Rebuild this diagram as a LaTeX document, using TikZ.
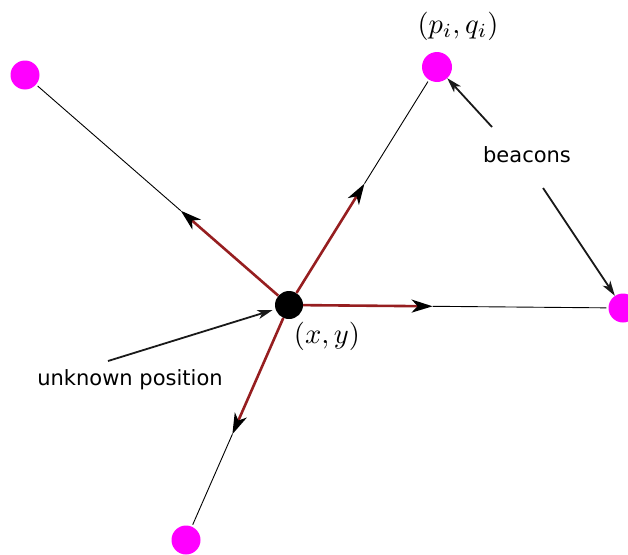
\documentclass[tikz,border=0pt]{standalone}
\usepackage{fontspec}
\usepackage{graphicx}
\usepackage{tikz}
\usetikzlibrary{arrows.meta, calc, positioning}
\newfontfamily\labelfont{DejaVu Sans}
\definecolor{beamred}{RGB}{150,30,32}
\definecolor{beacon}{RGB}{255,0,255}

\begin{document}
\begin{tikzpicture}[x=1pt, y=-1pt, >=Stealth]
    \clip (0,0) rectangle (628,554);
    % Vị trí chưa biết và các beacon
    \node[circle, fill=black, inner sep=0pt, minimum size=28pt] (pos) at (289,305) {};
    \node[circle, fill=beacon, inner sep=0pt, minimum size=29pt] (b1) at (25,75) {};
    \node[circle, fill=beacon, inner sep=0pt, minimum size=30pt] (b2) at (437,67) {};
    \node[circle, fill=beacon, inner sep=0pt, minimum size=29pt] (b3) at (623,308) {};
    \node[circle, fill=beacon, inner sep=0pt, minimum size=29pt] (b4) at (186,540) {};

    % Điểm dừng của các mũi tên đỏ
    \coordinate (m1) at ($(pos)!0.41!(b1)$);
    \coordinate (m2) at ($(pos)!0.51!(b2)$);
    \coordinate (m3) at ($(pos)!0.43!(b3)$);
    \coordinate (m4) at ($(pos)!0.55!(b4)$);

    % Mũi tên đỏ từ (x,y), rồi đường mảnh tới beacon
    \foreach \i in {1,...,4} {
        \draw[beamred, line width=2.6pt, -{Stealth[length=21pt, width=13pt, inset=6pt, black]}] (pos) -- (m\i);
        \draw[black, line width=0.9pt, shorten >=2pt] (m\i) -- (b\i);
    }

    % Nhãn
    \node (xy) at (327,336) {\scalebox{2.85}{$(x,y)$}};
    \node (pq) at (458,26) {\scalebox{2.85}{$(p_i,q_i)$}};
    \node[font=\labelfont\fontsize{21}{25}\selectfont, anchor=base] (bl) at (527,162) {beacons};
    \node[font=\labelfont\fontsize{21}{25}\selectfont, anchor=base] (ul) at (130,385) {unknown position};

    % Mũi tên chỉ dẫn
    \coordinate (s1) at (492,127);
    \coordinate (s2) at (543,188);
    \coordinate (s3) at (108,361);
    \draw[black!90, line width=1.8pt, -{Stealth[length=15pt, width=9pt, inset=4pt]}] (s1) -- (b2);
    \draw[black!90, line width=1.8pt, -{Stealth[length=15pt, width=9pt, inset=4pt]}] (s2) -- (b3);
    \draw[black!90, line width=1.8pt, -{Stealth[length=15pt, width=9pt, inset=4pt]}, shorten >=3pt] (s3) -- (pos);
\end{tikzpicture}
\end{document}
